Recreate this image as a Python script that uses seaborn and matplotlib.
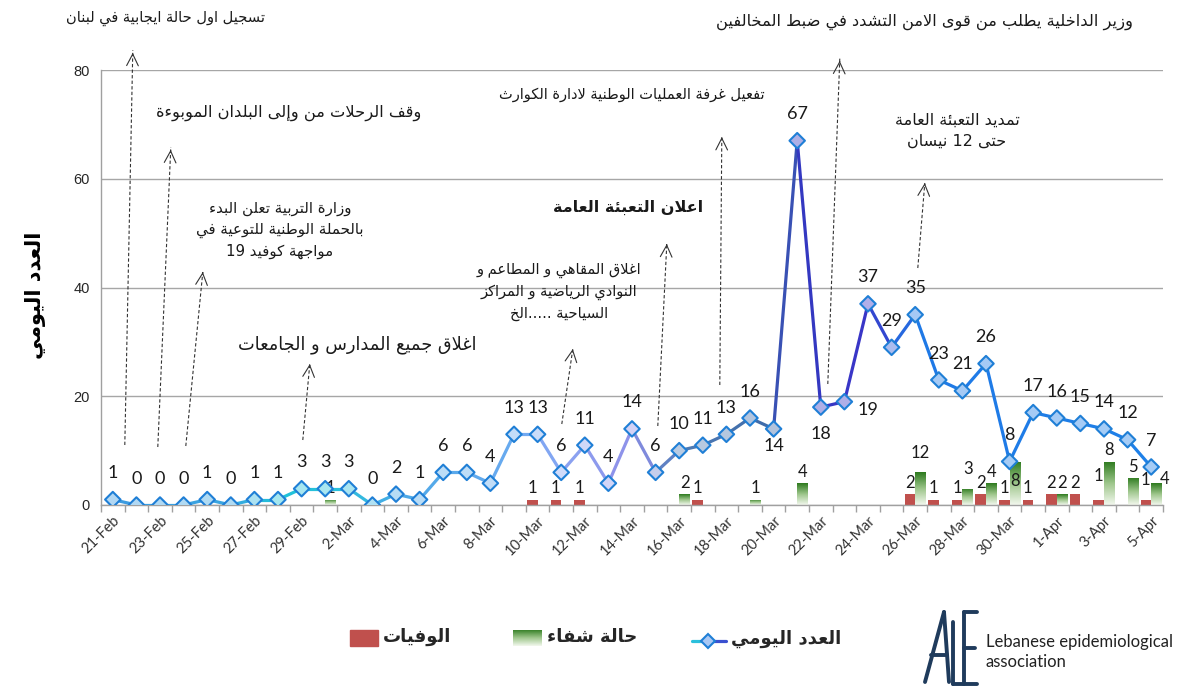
import re
import numpy as np
import pandas as pd
import matplotlib
matplotlib.use('Agg')
import matplotlib.pyplot as plt
import seaborn as sns
from matplotlib.collections import LineCollection
from matplotlib.colors import LinearSegmentedColormap, to_rgb
from matplotlib.lines import Line2D
from matplotlib.patches import Rectangle

# -------------------------------
# Data
# -------------------------------
dates = pd.date_range('2020-02-21', '2020-04-05', freq='D')
date_labels = [f"{d.day}-{d.strftime('%b')}" for d in dates]

# daily new cases
daily = [1, 0, 0, 0, 1, 0, 1, 1, 3,
         3, 3, 0, 2, 1, 6, 6, 4, 13, 13, 6, 11, 4, 14, 6, 10, 11, 13, 16, 14, 67,
         18, 19, 37, 29, 35, 23, 21, 26, 8, 17,
         16, 15, 14, 12, 7]
# deaths
deaths = [0, 0, 0, 0, 0, 0, 0, 0, 0,
          0, 0, 0, 0, 0, 0, 0, 0, 0, 1, 1, 1, 0, 0, 0, 0, 1, 0, 0, 0, 0,
          0, 0, 0, 0, 2, 1, 1, 2, 1, 1,
          2, 2, 1, 0, 1]
# recoveries (printed labels)
recovered = [0, 0, 0, 0, 0, 0, 0, 0, 0,
             1, 0, 0, 0, 0, 0, 0, 0, 0, 0, 0, 0, 0, 0, 0, 2, 0, 0, 1, 0, 4,
             0, 0, 0, 0, 12, 0, 3, 4, 8, 0,
             2, 0, 8, 5, 4]
# the source chart draws the 26-Mar bar at 6 although it is labelled 12
recovered_drawn = list(recovered)
recovered_drawn[34] = 6

W, H = 1178, 688

# -------------------------------
# Arabic shaping (presentation forms + visual order)
# -------------------------------
FORM_TABLE = [('ء', 0xFE80, 1), ('آ', 0xFE81, 2), ('أ', 0xFE83, 2), ('ؤ', 0xFE85, 2),
              ('إ', 0xFE87, 2), ('ئ', 0xFE89, 4), ('ا', 0xFE8D, 2), ('ب', 0xFE8F, 4),
              ('ة', 0xFE93, 2), ('ت', 0xFE95, 4), ('ث', 0xFE99, 4), ('ج', 0xFE9D, 4),
              ('ح', 0xFEA1, 4), ('خ', 0xFEA5, 4), ('د', 0xFEA9, 2), ('ذ', 0xFEAB, 2),
              ('ر', 0xFEAD, 2), ('ز', 0xFEAF, 2), ('س', 0xFEB1, 4), ('ش', 0xFEB5, 4),
              ('ص', 0xFEB9, 4), ('ض', 0xFEBD, 4), ('ط', 0xFEC1, 4), ('ظ', 0xFEC5, 4),
              ('ع', 0xFEC9, 4), ('غ', 0xFECD, 4), ('ف', 0xFED1, 4), ('ق', 0xFED5, 4),
              ('ك', 0xFED9, 4), ('ل', 0xFEDD, 4), ('م', 0xFEE1, 4), ('ن', 0xFEE5, 4),
              ('ه', 0xFEE9, 4), ('و', 0xFEED, 2), ('ى', 0xFEEF, 2), ('ي', 0xFEF1, 4)]
FORMS = {c: tuple(chr(b + k) if k < n else None for k in range(4)) for c, b, n in FORM_TABLE}
LAM_ALEF = {'آ': 0xFEF5, 'أ': 0xFEF7, 'إ': 0xFEF9, 'ا': 0xFEFB}


def shape_line(text):
    units = []
    i = 0
    while i < len(text):
        c = text[i]
        if c == 'ل' and i + 1 < len(text) and text[i + 1] in LAM_ALEF:
            b = LAM_ALEF[text[i + 1]]
            units.append((chr(b), chr(b + 1), None, None))
            i += 2
            continue
        units.append(FORMS.get(c, c))
        i += 1
    out = []
    for k, u in enumerate(units):
        if isinstance(u, str):
            out.append(u)
            continue
        prev = units[k - 1] if k > 0 else None
        nxt = units[k + 1] if k + 1 < len(units) else None
        jp = isinstance(prev, tuple) and prev[2] is not None and u[1] is not None
        jn = u[2] is not None and isinstance(nxt, tuple) and nxt[1] is not None
        if jp and jn:
            out.append(u[3])
        elif jp:
            out.append(u[1])
        elif jn:
            out.append(u[2])
        else:
            out.append(u[0])
    vis = ''.join(out)[::-1]
    return re.sub(r'[0-9A-Za-z]+', lambda m: m.group(0)[::-1], vis)


def ar(text):
    return '\n'.join(shape_line(t) for t in text.split('\n'))


def fx(px):
    return px / W


def fy(py):
    return 1 - py / H


# -------------------------------
# Figure
# -------------------------------
sns.set_theme(style='white')
plt.rcParams['font.family'] = ['Lato', 'DejaVu Sans']

fig = plt.figure(figsize=(W / 100, H / 100), dpi=100)
ax = fig.add_axes([fx(101), fy(505), fx(1163) - fx(101), fy(70) - fy(505)])

# bars: deaths (left) and recoveries (right) for each day
bars = pd.DataFrame({
    'date': date_labels * 2,
    'kind': ['deaths'] * len(dates) + ['recovered'] * len(dates),
    'value': deaths + recovered_drawn,
})
sns.barplot(data=bars, x='date', y='value', hue='kind', order=date_labels,
            hue_order=['deaths', 'recovered'], palette=['#c0504d', '#4e9a2e'],
            width=0.9, errorbar=None, legend=False, saturation=1, ax=ax)

green_cmap = LinearSegmentedColormap.from_list('g', ['#f3f8ee', '#9cc58a', '#2d7a1e'])
grad = np.linspace(0, 1, 128).reshape(-1, 1)
for p in ax.containers[0]:
    p.set_edgecolor('none')
    p.set_zorder(2)
for p in ax.containers[1]:
    p.set_edgecolor('none')
    if p.get_height() <= 0:
        continue
    p.set_facecolor('none')
    x0, w, h = p.get_x(), p.get_width(), p.get_height()
    im = ax.imshow(grad, cmap=green_cmap, origin='lower', aspect='auto',
                   extent=[x0, x0 + w, 0, h], zorder=2)
    im.set_clip_path(p)

# gradient-coloured daily line
COLOR_STOPS = [(0, '#3d9be0'), (5, '#3aa6e0'), (7, '#1fc2d8'), (10, '#2bbfdc'),
               (12, '#4aa8e6'), (17, '#6aaaf0'), (19, '#8aa4f2'), (22, '#8f8fe8'),
               (24, '#4f7cb6'), (28, '#3e6aa8'), (29, '#3338c0'), (32, '#3a36c8'),
               (34, '#1f79e6'), (44, '#1e80e8')]
stop_x = [s[0] for s in COLOR_STOPS]
stop_rgb = np.array([to_rgb(s[1]) for s in COLOR_STOPS])


def color_at(t):
    return tuple(np.interp(t, stop_x, stop_rgb[:, c]) for c in range(3))


xs = np.arange(len(daily))
segs = [[(xs[i], daily[i]), (xs[i + 1], daily[i + 1])] for i in range(len(daily) - 1)]
seg_colors = [color_at(i + 0.5) for i in range(len(daily) - 1)]
ax.add_collection(LineCollection(segs, colors=seg_colors, linewidths=2.3,
                                 capstyle='round', zorder=3))
face = [tuple(0.4 * c + 0.6 for c in color_at(i)) for i in xs]
ax.scatter(xs, daily, marker='D', s=62, facecolors=face, edgecolors='#1f7fd6',
           linewidths=1.5, zorder=4)

# data labels on the line
line_offsets = {28: (0, -12), 30: (0, -19), 31: (17, -6)}
for i, v in enumerate(daily):
    ax.annotate(str(v), (i, v), xytext=line_offsets.get(i, (0, 19)),
                textcoords='offset points', ha='center', va='center',
                fontsize=13, color='#1a1a1a', zorder=5)

# bar labels
death_offsets = {42: (0, 17), 44: (0, 14)}
rec_offsets = {34: (0, 14), 36: (0, 14), 38: (0, -14), 44: (6, 3)}
for i, p in enumerate(ax.containers[0]):
    if deaths[i] > 0:
        ax.annotate(str(deaths[i]), (p.get_x() + p.get_width() / 2, p.get_height()),
                    xytext=death_offsets.get(i, (0, 8)), textcoords='offset points',
                    ha='center', va='center', fontsize=12, color='#1a1a1a')
for i, p in enumerate(ax.containers[1]):
    if recovered[i] > 0:
        ax.annotate(str(recovered[i]), (p.get_x() + p.get_width() / 2, p.get_height()),
                    xytext=rec_offsets.get(i, (0, 8)), textcoords='offset points',
                    ha='center', va='center', fontsize=12, color='#1a1a1a')

# axes styling
ax.set_xlim(-0.5, len(daily) - 0.5)
ax.set_ylim(0, 80)
ax.set_yticks([0, 20, 40, 60, 80])
ax.set_yticklabels(['0', '20', '40', '60', '80'], family='Liberation Sans', fontsize=10.5)
ax.yaxis.grid(True, color='#a6a6a6', lw=1)
ax.set_axisbelow(True)
ax.set_xticks(xs[::2])
ax.set_xticklabels(date_labels[::2], rotation=45, ha='right', rotation_mode='anchor',
                   fontsize=10.5, color='#333333')
ax.set_xticks(np.arange(-0.5, len(daily), 1), minor=True)
ax.tick_params(axis='x', which='major', length=0, pad=6)
ax.tick_params(axis='x', which='minor', bottom=True, length=5, width=1, color='#a0a0a0')
ax.tick_params(axis='y', length=0, pad=8)
ax.set_xlabel('')
ax.set_ylabel('')
for s in ['top', 'right']:
    ax.spines[s].set_visible(False)
for s in ['left', 'bottom']:
    ax.spines[s].set_color('#a0a0a0')
    ax.spines[s].set_linewidth(1)


# event annotations: dashed arrows (tail near the curve, head near the text)
def px2data(px, py):
    return ((px - 113) / 23.6, (505 - py) / 5.4375)


arrows = [((125, 445), (133, 50)), ((158, 447), (171, 147)), ((186, 446), (203, 272)),
          ((303, 440), (310, 364)), ((562, 424), (573, 349)), ((658, 426), (667, 244)),
          ((720, 385), (722, 137)), ((828, 384), (840, 58)), ((918, 268), (925, 183))]
for tail, head in arrows:
    t = px2data(*tail)
    h = px2data(*head)
    ax.plot([t[0], h[0]], [t[1], h[1]], ls=(0, (3, 2)), lw=0.8, color='#333333',
            clip_on=False, zorder=6)
    ax.annotate('', xy=h, xytext=(h[0] + (t[0] - h[0]) * 0.02, h[1] + (t[1] - h[1]) * 0.02),
                arrowprops=dict(arrowstyle='->,head_length=0.7,head_width=0.35',
                                lw=0.8, color='#333333'),
                annotation_clip=False, zorder=6)

AR_FONT = ['DejaVu Sans']
notes = [
    ('تسجيل اول حالة ايجابية في لبنان', 166, 18, 10.5, 'normal'),
    ('وقف الرحلات من وإلى البلدان الموبوءة', 289, 113, 11.7, 'normal'),
    ('وزارة التربية تعلن البدء\nبالحملة الوطنية للتوعية في\nمواجهة كوفيد 19', 280, 230, 10.8, 'normal'),
    ('اغلاق جميع المدارس و الجامعات', 357, 345, 12.8, 'normal'),
    ('اغلاق المقاهي و المطاعم و\nالنوادي الرياضية و المراكز\nالسياحية .....الخ', 559, 292, 10.5, 'normal'),
    ('اعلان التعبئة العامة', 628, 207, 11.5, 'bold'),
    ('تفعيل غرفة العمليات الوطنية لادارة الكوارث', 632, 95, 10.5, 'normal'),
    ('وزير الداخلية يطلب من قوى الامن التشدد في ضبط المخالفين', 925, 22, 11.7, 'normal'),
    ('تمديد التعبئة العامة\nحتى 12 نيسان', 957, 131, 11.5, 'normal'),
]
for txt, px, py, size, weight in notes:
    fig.text(fx(px), fy(py), ar(txt), ha='center', va='center', fontsize=size,
             fontweight=weight, family=AR_FONT, color='#1a1a1a', linespacing=1.5)

# y axis title
fig.text(fx(35), fy(295), ar('العدد اليومي'), rotation=90, ha='center', va='center',
         fontsize=15, fontweight='bold', family=AR_FONT, color='black')

# legend (drawn by hand to match the original placement)
fig.add_artist(Rectangle((fx(350), fy(646)), fx(378) - fx(350), fy(630) - fy(646),
                         transform=fig.transFigure, color='#c0504d'))
fig.text(fx(383), fy(637), ar('الوفيات'), ha='left', va='center', fontsize=13,
         fontweight='bold', family=AR_FONT)
sw = fig.add_axes([fx(513), fy(646), fx(542) - fx(513), fy(630) - fy(646)])
sw.imshow(grad, cmap=green_cmap, origin='lower', aspect='auto')
sw.axis('off')
fig.text(fx(547), fy(637), ar('حالة شفاء'), ha='left', va='center', fontsize=13,
         fontweight='bold', family=AR_FONT)
fig.add_artist(Line2D([fx(692), fx(708)], [fy(641), fy(641)], transform=fig.transFigure,
                      color='#2bc0dc', lw=2.3))
fig.add_artist(Line2D([fx(708), fx(726)], [fy(641), fy(641)], transform=fig.transFigure,
                      color='#3a50d0', lw=2.3))
fig.add_artist(Line2D([fx(708)], [fy(641)], transform=fig.transFigure, marker='D',
                      markersize=7, markerfacecolor='#a9c8f4', markeredgecolor='#1f7fd6',
                      markeredgewidth=1.5))
fig.text(fx(731), fy(639), ar('العدد اليومي'), ha='left', va='center', fontsize=13,
         fontweight='bold', family=AR_FONT)

# association logo and name
navy = '#1f3b5c'
logo = [([925, 944], [682, 612]), ([944, 949], [612, 682]), ([931, 947], [655, 655]),
        ([953, 953], [622, 684]), ([953, 963], [684, 684]),
        ([964, 964], [612, 684]), ([964, 977], [612, 612]), ([964, 975], [648, 648]),
        ([964, 977], [684, 684])]
for lx, ly in logo:
    fig.add_artist(Line2D([fx(v) for v in lx], [fy(v) for v in ly],
                          transform=fig.transFigure, color=navy, lw=2.8))
fig.text(fx(986), fy(652), 'Lebanese epidemiological\nassociation', ha='left', va='center',
         fontsize=12, family='Lato', color='#222222', linespacing=1.35)

fig.savefig('out.png', dpi=100)
